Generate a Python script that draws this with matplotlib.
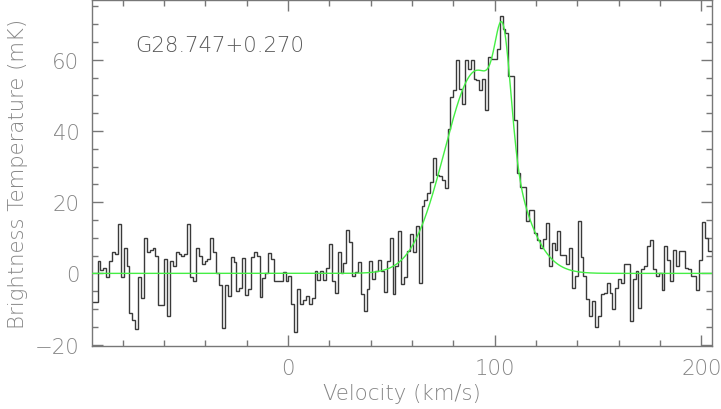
import numpy as np
import matplotlib
matplotlib.use("Agg")
import matplotlib.pyplot as plt
from matplotlib.ticker import MultipleLocator
from matplotlib import font_manager

# ---- data ----
source_name = "G28.747+0.270"
v_start = -95.0          # left edge of first channel (km/s)
chan_width = 1.4         # km/s

tb_mK = [
    -8, -8, 3.5, 1, 1.5, -1, 3.5, 6, 5.5, 14, -1, 7, 2, -11, -13, -15.5, -1, -7, 10, 6,
    6.5, 7, 5, -9, -9, 4, -12, 3.5, 2, 6, 5.5, 5, 5.5, 14,
    -1, -2, 7, 5, 2.5, 3.5, 4, 10, 6, 0, -3.4, -15.4, -3.4, -6.4, 4.7, 3.2, -5, -4, 4.4, -6,
    -4.5, 4.6, 6, 5, -6.5, -1.2, 0, 5.8, 4, -2, -2, -2, 0.5, -2, -0.7, -8.7, -16.6,
    -4.5, -8.7, -7.5, -6.4, -8.7, -6.8, 0.8, -1.9, 0.8, -1.9, 1.6, 8.3, -2.1, -5.4, 6, 0.2,
    3, 12.1, 8.8, -0.6, 0.4, 3.2, -5.9, -10.6, -4.5, 3.5, -1.7, 0.8, 3.9, 0.8, -5.2, 3.5,
    10, -5.9,
    2, 11.8, -3, -1, 6.2, 11.2, 6, 13.4, -2.6, 19, 20.7, 22.6, 25.8, 32.4, 27.7, 27.4, 26.3,
    24, 40.7, 49.6, 51.5, 60, 51.7, 47.6, 60, 57.5, 60, 54.7, 54.3, 51.5, 54.5, 46, 60.8,
    60.3, 60.3, 63, 72.2,
    68.7, 67.5, 55.4, 55.4, 43.1, 28.2, 24.4, 24.4, 14.6, 17.9, 17.9, 11.4, 9.5, 7.2, 9.7,
    14.2, 2, 8.6, 6.5, 11.8, 5.3, 5.3, 2.5, 7.2, -4, -0.8, 14.6, 4.7, -0.7, -7.3, -12.1,
    -7.7, -15.2, -12, -5.9, -5.4, -2.6, -5.6, -10, -4, -1.7, -2.8, 2.7, 2.5, -13.3, -1.7,
    0.7, -9.6, 1.1, 2.2, 7.8, 9.3, 1.1, -0.6, 0, -4.8, 7.6, 3.9, -2.1, 6.5, 2.2, 6.4, 6.4,
    1.6, 1.1, -0.7, -0.7, -4.7, 3.9, 14.4, 10, 6.2, 6.2,
]

# Gaussian fit components (amplitude mK, centre km/s, sigma km/s)
fit_amp = [57.0, 28.6]
fit_cen = [91.5, 104.2]
fit_sig = [15.7, 3.7]

x_limits = (-94.9, 205.2)
y_limits = (-20.4, 76.8)

# ---- font: try a light weight of DejaVu Sans ----
light = 'normal'
for f in font_manager.fontManager.ttflist:
    if f.name == 'DejaVu Sans' and f.weight in (200, 'extra light', 'ultralight'):
        light = 200
        break

plt.rcParams['font.family'] = ['DejaVu Sans']
plt.rcParams['font.weight'] = light
plt.rcParams['axes.labelweight'] = light
fs = 15.3

fig = plt.figure(figsize=(7.21, 4.10), dpi=100)
ax = fig.add_axes([92 / 721, 63 / 410, 620 / 721, 346 / 410])

edges = v_start + chan_width * np.arange(len(tb_mK) + 1)
ax.stairs(tb_mK, edges, baseline=None, color='#3a3a3a', linewidth=1.0, zorder=2)

vfit = np.linspace(x_limits[0], x_limits[1], 1200)
model = np.zeros_like(vfit)
for a, c, s in zip(fit_amp, fit_cen, fit_sig):
    model += a * np.exp(-0.5 * ((vfit - c) / s) ** 2)
ax.plot(vfit, model, color='#44ee44', linewidth=1.0, zorder=3)

ax.set_xlim(*x_limits)
ax.set_ylim(*y_limits)

grey = '#777777'
tgrey = '#858585'
for sp in ax.spines.values():
    sp.set_color(grey)
    sp.set_linewidth(1.0)

ax.xaxis.set_major_locator(MultipleLocator(100))
ax.xaxis.set_minor_locator(MultipleLocator(20))
ax.yaxis.set_major_locator(MultipleLocator(20))
ax.yaxis.set_minor_locator(MultipleLocator(5))
ax.tick_params(which='both', direction='in', top=True, right=True, color=grey,
               width=1.0, labelcolor=tgrey, labelsize=fs)
ax.tick_params(which='major', length=8)
ax.tick_params(which='minor', length=4.5)
ax.tick_params(axis='x', pad=9)
ax.tick_params(axis='y', pad=9)

ax.set_xlabel('Velocity (km/s)', color=tgrey, fontsize=fs, labelpad=3, fontweight=light)
ax.set_ylabel('Brightness Temperature (mK)', color=tgrey, fontsize=fs, labelpad=5,
              fontweight=light)

ax.text(0.069, 0.87, source_name, transform=ax.transAxes, ha='left', va='center',
        fontsize=fs, color='#5a5a5a', fontweight=light)

fig.savefig('out.png', dpi=100)
